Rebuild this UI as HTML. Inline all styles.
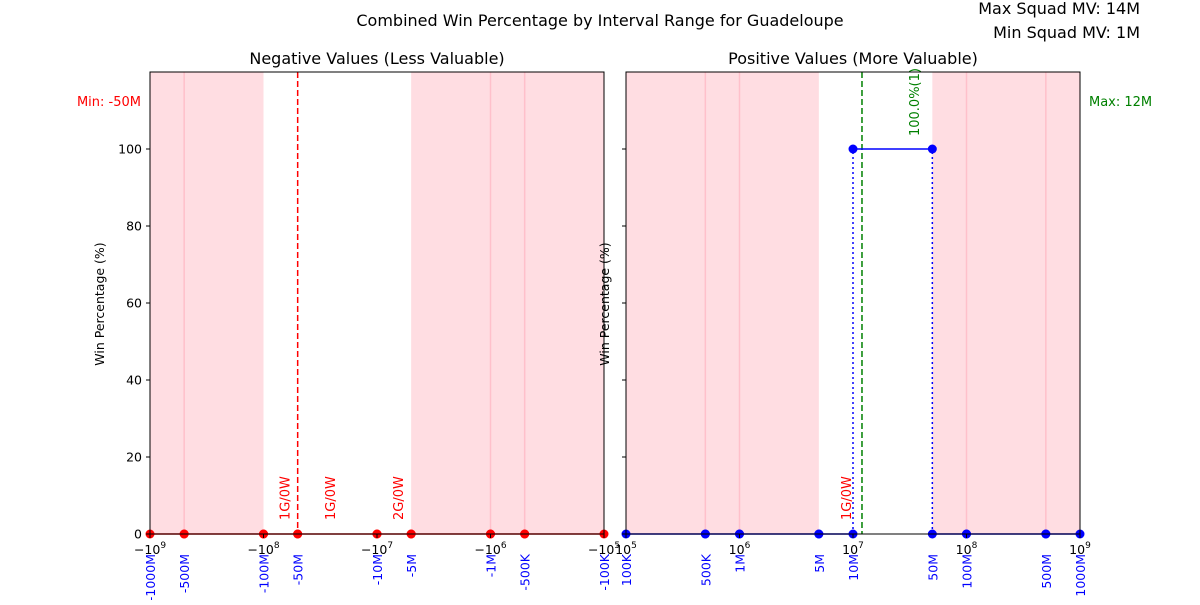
<!DOCTYPE html>
<html><head><meta charset="utf-8"><style>
body{margin:0;background:#fff}
svg{font-family:"DejaVu Sans","Liberation Sans",sans-serif}
</style></head><body>
<svg id="c" width="1200" height="600" viewBox="0 0 1200 600" xmlns="http://www.w3.org/2000/svg">
<text x="600" y="26" text-anchor="middle" font-size="16">Combined Win Percentage by Interval Range for Guadeloupe</text>
<text x="1140" y="14" text-anchor="end" font-size="16">Max Squad MV: 14M</text>
<text x="1140" y="38" text-anchor="end" font-size="16">Min Squad MV: 1M</text>
<g id="g"></g>
</svg>
<script>
const negTicks=[-1e9,-5e8,-1e8,-5e7,-1e7,-5e6,-1e6,-5e5,-1e5];
const negTickLabels=["-1000M","-500M","-100M","-50M","-10M","-5M","-1M","-500K","-100K"];
const negStarts=[-1e9,-5e8,-1e8,-5e7,-1e7,-5e6,-1e6,-5e5];
const negEnds=[-5e8,-1e8,-5e7,-1e7,-5e6,-1e6,-5e5,-1e5];
const negValues=[0,0,0,0,0,0,0,0];
const negPink=[[-1e9,-1e8],[-5e6,-1e5]];
const negLabels=[[-7.5e7,"1G/0W"],[-3e7,"1G/0W"],[-7.5e6,"2G/0W"]];
const negMin=-5e7;
const posTicks=[1e5,5e5,1e6,5e6,1e7,5e7,1e8,5e8,1e9];
const posTickLabels=["100K","500K","1M","5M","10M","50M","100M","500M","1000M"];
const posStarts=[1e5,5e5,1e6,5e6,1e7,5e7,1e8,5e8];
const posEnds=[5e5,1e6,5e6,1e7,5e7,1e8,5e8,1e9];
const posValues=[0,0,0,0,100,0,0,0];
const posPink=[[1e5,5e6],[5e7,1e9]];
const posLabels=[[7.5e6,"1G/0W","red"],[3e7,"100.0%(1)","green"]];
const posMax=1.2e7;
const yTicks=[0,20,40,60,80,100];
const decNeg=[-1e9,-1e8,-1e7,-1e6,-1e5];
const decPos=[1e5,1e6,1e7,1e8,1e9];

const NS="http://www.w3.org/2000/svg";
const G=document.getElementById('g');
function el(t,a,p){const e=document.createElementNS(NS,t);for(const k in a)e.setAttribute(k,a[k]);(p||G).appendChild(e);return e;}
const T=72,B=534;
const y=v=>B-(v/120)*(B-T);
function panel(L,R,neg){
  const x=v=>neg? L+(9-Math.log10(-v))/4*(R-L) : L+(Math.log10(v)-5)/4*(R-L);
  const pink=neg?negPink:posPink, ticks=neg?negTicks:posTicks;
  const st0=neg?negStarts:posStarts, en0=neg?negEnds:posEnds, vals=neg?negValues:posValues;
  const tl=neg?negTickLabels:posTickLabels, col=neg?"red":"blue";
  const pg=el('g',{});
  
  
  pink.forEach(p=>{const r=el('rect',{x:Math.min(x(p[0]),x(p[1])),y:T,width:Math.abs(x(p[1])-x(p[0])),height:B-T,fill:'#ffdde2'},pg);
    });
  ticks.forEach(t=>{const X=x(t);const inP=pink.some(p=>X>Math.min(x(p[0]),x(p[1]))+1&&X<Math.max(x(p[0]),x(p[1]))-1);
    if(inP){const l=el('line',{x1:X,x2:X,y1:T,y2:B,stroke:'#ffc0cb','stroke-width':1.5},pg);}});
  if(neg){const l=el('line',{x1:x(negMin),x2:x(negMin),y1:T,y2:B,stroke:'red','stroke-width':1.5,'stroke-dasharray':'6,3'},pg);
    const t=el('text',{x:141,y:106,'text-anchor':'end','font-size':13,fill:'red'},pg);t.textContent="Min: -50M";}
  else{
    st0.forEach((s,i)=>{if(vals[i]>0){[s,en0[i]].forEach(e=>{const l=el('line',{x1:x(e),x2:x(e),y1:y(0),y2:y(vals[i]),stroke:'blue','stroke-width':1.5,'stroke-dasharray':'2,3'},pg);});}});
    const l=el('line',{x1:x(posMax),x2:x(posMax),y1:T,y2:B,stroke:'green','stroke-width':1.5,'stroke-dasharray':'6,3'},pg);
    const t=el('text',{x:1089,y:106,'font-size':13,fill:'green'},pg);t.textContent="Max: 12M";}
  (neg?negLabels:posLabels).forEach(a=>{const X=x(a[0])+12;const yy=neg||a[2]=='red'?520:136;
    const t=el('text',{x:X,y:yy,'font-size':13,fill:a[2]||'red',transform:`rotate(-90 ${X} ${yy})`},pg);t.textContent=a[1];
    });
  st0.forEach((s,i)=>{const l=el('line',{x1:x(s),x2:x(en0[i]),y1:y(vals[i]),y2:y(vals[i]),stroke:col,'stroke-width':1.6},pg);
    [s,en0[i]].forEach(e=>{const c=el('circle',{cx:x(e),cy:y(vals[i]),r:4.5,fill:col},pg);});});
  const fr=el('rect',{x:L,y:T,width:R-L,height:B-T,fill:'none',stroke:'#000','stroke-width':1},pg);
  yTicks.forEach(v=>{const l=el('line',{x1:L-4,x2:L,y1:y(v),y2:y(v),stroke:'#000'},pg);
    if(neg){const t=el('text',{x:L-8,y:y(v)+4.5,'text-anchor':'end','font-size':12.5},pg);t.textContent=v;}});
  ticks.forEach((t,i)=>{const X=x(t)+5,Y=B+20;const tx=el('text',{x:X,y:Y,'text-anchor':'end','font-size':12.5,fill:'blue',transform:`rotate(-90 ${X} ${Y})`},pg);tx.textContent=tl[i];
    });
  (neg?decNeg:decPos).forEach(d=>{const X=x(d);const l=el('line',{x1:X,x2:X,y1:B,y2:B+4,stroke:'#000'},pg);
    const e=Math.round(Math.log10(Math.abs(d)));const t=el('text',{x:X,y:B+20,'text-anchor':'middle','font-size':12.5},pg);t.innerHTML=(neg?'\u2212':'')+'10<tspan dy="-6" font-size="9">'+e+'</tspan>';
    });
  const yl=el('text',{x:0,y:0,'text-anchor':'middle','font-size':12.5,transform:`translate(${neg?L-46:L-17} ${(T+B)/2+1}) rotate(-90)`},pg);yl.textContent="Win Percentage (%)";
  const st=el('text',{x:(L+R)/2,y:64,'text-anchor':'middle','font-size':16},pg);st.textContent=neg?"Negative Values (Less Valuable)":"Positive Values (More Valuable)";
}
panel(150,604,true);
panel(626,1080,false);
</script>
</body></html>
